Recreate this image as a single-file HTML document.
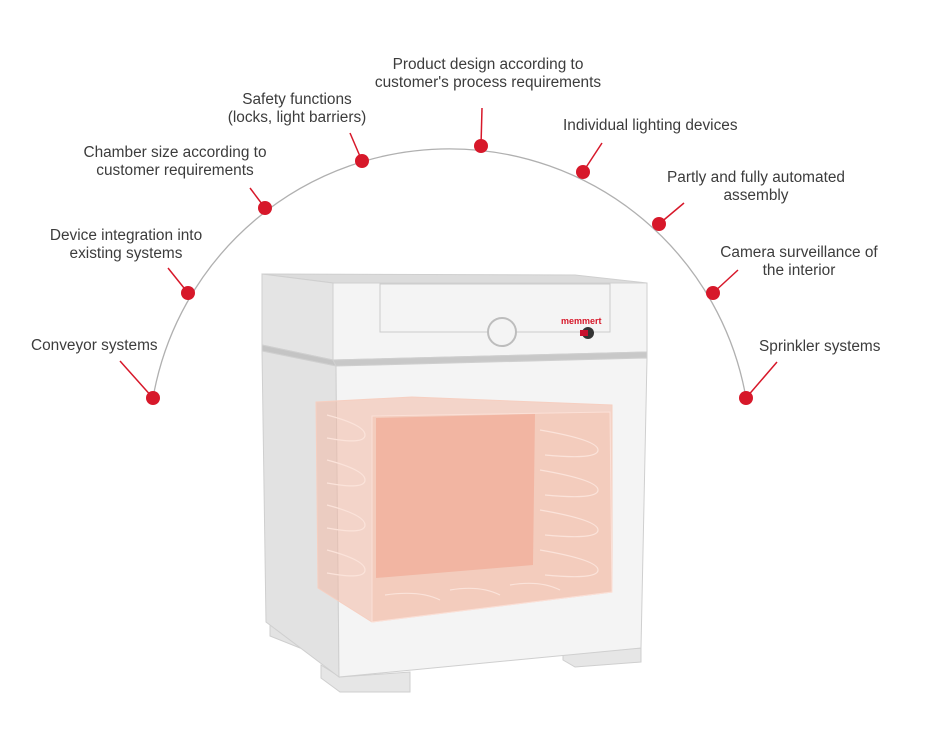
<!DOCTYPE html>
<html><head><meta charset="utf-8"><style>
body{margin:0;background:#fff}
svg text{font-family:"Liberation Sans",sans-serif;font-size:15.4px;fill:#3c3c3c}
</style></head><body>
<svg width="937" height="744" viewBox="0 0 937 744" xmlns="http://www.w3.org/2000/svg">
<!-- oven -->
<g stroke="#cfcfcf" stroke-width="1">
<polygon points="321,665 340,677 410,672 410,692 340,692 321,678" fill="#e6e6e6"/>
<polygon points="270,622 300,640 300,648 270,636" fill="#e3e3e3"/>
<polygon points="563,650 641,648 641,662 575,667 563,660" fill="#e6e6e6"/>
<polygon points="262,274 575,275 647,283 333,283" fill="#dcdcdc"/>
<polygon points="262,274 333,283 333,360 262,345" fill="#e4e4e4"/>
<polygon points="333,283 647,283 647,352 333,360" fill="#f4f4f4"/>
<polygon points="262,345 333,360 336,366 262,351" fill="#c4c4c4"/>
<polygon points="333,360 647,352 647,358 336,366" fill="#c8c8c8"/>
<polygon points="262,351 336,366 339,677 266,622" fill="#e2e2e2"/>
<polygon points="336,366 647,358 641,648 339,677" fill="#f4f4f4"/>
<rect x="380" y="284" width="230" height="48" fill="none" stroke="#cccccc"/>
<circle cx="502" cy="332" r="14" fill="#f4f4f4" stroke="#bdbdbd" stroke-width="2"/>
</g>
<text x="561" y="324" style="font-size:9px;fill:#d7182a;font-weight:bold">memmert</text>
<circle cx="588" cy="333" r="6" fill="#333"/>
<rect x="580" y="330" width="8" height="6" fill="#c8102e"/>
<!-- chamber -->
<polygon points="316,402 412,397 612,405 612,592 372,622 318,588" fill="#f3b9a6" fill-opacity="0.55" stroke="#f6cfc1"/>
<polygon points="372,416 610,412 612,592 372,622" fill="#f3c6b6" fill-opacity="0.6" stroke="#fbe0d7"/>
<polygon points="376,418 535,414 533,565 376,578" fill="#f2b5a2"/>
<g fill="none" stroke="#fbe3da" stroke-width="1.2">
<path d="M540,430 Q598,440 598,450 Q598,460 545,455"/>
<path d="M540,470 Q598,480 598,490 Q598,500 545,495"/>
<path d="M540,510 Q598,520 598,530 Q598,540 545,535"/>
<path d="M540,550 Q598,560 598,570 Q598,580 545,575"/>
<path d="M327,415 Q365,425 365,435 Q365,445 327,438"/>
<path d="M327,460 Q365,470 365,480 Q365,490 327,483"/>
<path d="M327,505 Q365,515 365,525 Q365,535 327,528"/>
<path d="M327,550 Q365,560 365,570 Q365,580 327,573"/>
<path d="M385,595 Q420,590 440,600 M450,590 Q480,585 500,595 M510,585 Q540,580 560,590"/>
</g>
<!-- arc -->
<path d="M153,398 A301,301 0 0 1 746,398" fill="none" stroke="#b0b0b0" stroke-width="1.3"/>
<g stroke="#d7182a" stroke-width="1.5">
<line x1="153" y1="398" x2="120" y2="361"/>
<line x1="188" y1="293" x2="168" y2="268"/>
<line x1="265" y1="208" x2="250" y2="188"/>
<line x1="362" y1="161" x2="350" y2="133"/>
<line x1="481" y1="146" x2="482" y2="108"/>
<line x1="583" y1="172" x2="602" y2="143"/>
<line x1="659" y1="224" x2="684" y2="203"/>
<line x1="713" y1="293" x2="738" y2="270"/>
<line x1="746" y1="398" x2="777" y2="362"/>
</g>
<g fill="#d7182a">
<circle cx="153" cy="398" r="7"/><circle cx="188" cy="293" r="7"/><circle cx="265" cy="208" r="7"/>
<circle cx="362" cy="161" r="7"/><circle cx="481" cy="146" r="7"/><circle cx="583" cy="172" r="7"/>
<circle cx="659" cy="224" r="7"/><circle cx="713" cy="293" r="7"/><circle cx="746" cy="398" r="7"/>
</g>
<text x="31" y="350">Conveyor systems</text>
<text x="126" y="240" text-anchor="middle">Device integration into</text>
<text x="126" y="258" text-anchor="middle">existing systems</text>
<text x="175" y="157" text-anchor="middle">Chamber size according to</text>
<text x="175" y="175" text-anchor="middle">customer requirements</text>
<text x="297" y="104" text-anchor="middle">Safety functions</text>
<text x="297" y="122" text-anchor="middle">(locks, light barriers)</text>
<text x="488" y="69" text-anchor="middle">Product design according to</text>
<text x="488" y="87" text-anchor="middle">customer's process requirements</text>
<text x="563" y="130">Individual lighting devices</text>
<text x="756" y="182" text-anchor="middle">Partly and fully automated</text>
<text x="756" y="200" text-anchor="middle">assembly</text>
<text x="799" y="257" text-anchor="middle">Camera surveillance of</text>
<text x="799" y="275" text-anchor="middle">the interior</text>
<text x="759" y="351">Sprinkler systems</text>
</svg>
</body></html>
